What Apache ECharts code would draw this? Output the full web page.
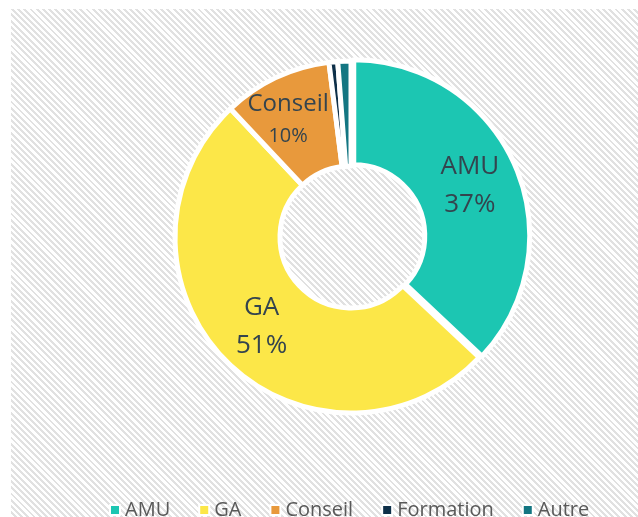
<!DOCTYPE html>
<html lang="fr">
<head>
<meta charset="UTF-8">
<title>Répartition</title>
<script src="https://cdn.jsdelivr.net/npm/echarts@6/dist/echarts.min.js"></script>
<style>
  html, body { margin: 0; padding: 0; background: #fff; }
  #bg {
    position: absolute; left: 11px; top: 9px; width: 627px; height: 508px;
    background: repeating-linear-gradient(45deg, #ffffff 0px, #ffffff 2.4px, #e1e1e1 2.4px, #e1e1e1 4.4px);
  }
  #main { position: absolute; left: 0; top: 0; width: 638px; height: 517px; }
</style>
</head>
<body>
<div id="bg"></div>
<div id="main"></div>
<script type="text/javascript">
// données
var categories = ['AMU', 'GA', 'Conseil', 'Formation', 'Autre'];
var values = [37, 51, 10, 0.8, 1.2];
var colors = ['#1cc6b2', '#fce748', '#e8993c', '#0e3049', '#137682'];
var showLabel = [true, true, true, false, false];

var myChart = echarts.init(document.getElementById('main'), null, {renderer: 'canvas'});

var pieData = categories.map(function (name, i) {
    var item = {
        name: name,
        value: values[i],
        itemStyle: {color: colors[i]},
        label: {show: showLabel[i]}
    };
    if (name === 'AMU') {
        item.selected = true;
    }
    if (name === 'Conseil') {
        item.label = {
            show: true,
            formatter: '{n|{b}}\n{p|{d}%}',
            padding: [0, 18, 8, 0],
            rich: {
                n: {fontFamily: 'Open Sans', fontSize: 24, lineHeight: 35, color: '#34444e'},
                p: {fontFamily: 'Open Sans', fontSize: 20, lineHeight: 28, color: '#34444e'}
            }
        };
    }
    return item;
});

myChart.setOption({
    backgroundColor: 'transparent',
    legend: {
        data: categories,
        bottom: -8,
        left: 104,
        icon: 'rect',
        itemWidth: 10,
        itemHeight: 10,
        itemGap: 28,
        selectedMode: false,
        textStyle: {fontFamily: 'Open Sans', fontSize: 20, color: '#595959'}
    },
    series: [{
        type: 'pie',
        center: [351, 237],
        radius: [71, 176],
        startAngle: 90,
        clockwise: true,
        percentPrecision: 0,
        avoidLabelOverlap: false,
        selectedMode: 'single',
        selectedOffset: 3,
        itemStyle: {borderColor: '#ffffff', borderWidth: 5},
        label: {
            position: 'inside',
            formatter: '{b}\n{d}%',
            fontFamily: 'Open Sans',
            fontSize: 26,
            lineHeight: 38,
            color: '#34444e'
        },
        labelLine: {show: false},
        emphasis: {disabled: true},
        data: pieData
    }]
});
</script>
</body>
</html>
